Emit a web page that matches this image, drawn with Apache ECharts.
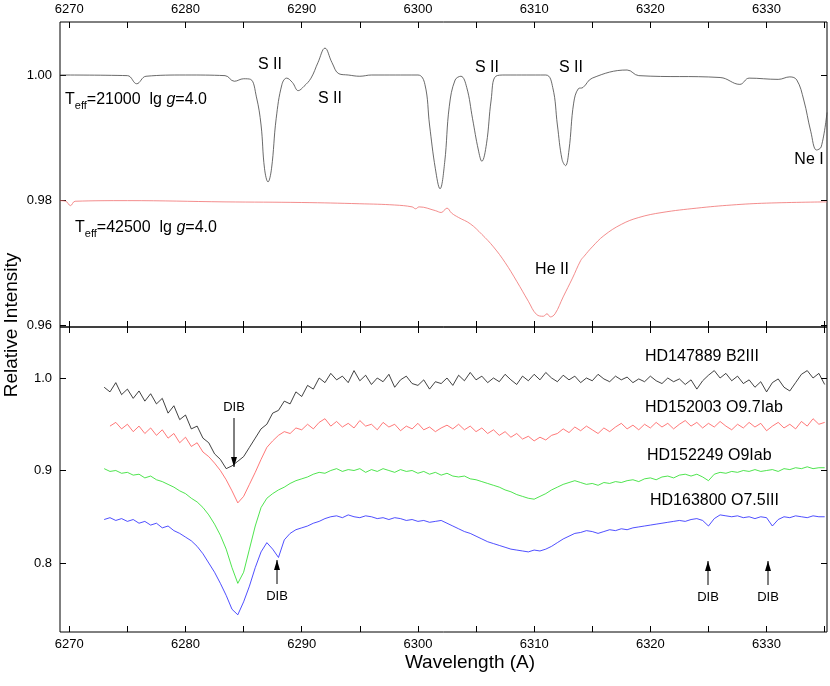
<!DOCTYPE html>
<html><head><meta charset="utf-8">
<script src="https://cdn.jsdelivr.net/npm/echarts@6/dist/echarts.min.js"></script>
<style>html,body{margin:0;padding:0;background:#fff}#c{width:830px;height:686px}</style>
</head><body><div id="c"></div>
<script>
const modelB = [[6269.2,1.0],[6275,0.9999],[6275.8,0.9986],[6276.6,0.9998],[6280,1.0],[6283.4,0.9999],[6284.2,0.9990],[6285,0.9994],[6285.6,0.9993],[6286.1,0.9965],[6286.5,0.992],[6286.8,0.985],[6287.1,0.9829],[6287.4,0.985],[6287.8,0.993],[6288.3,0.9985],[6288.7,0.9995],[6289.2,0.9988],[6289.7,0.9975],[6290.2,0.9982],[6290.8,0.9995],[6291.4,1.002],[6292,1.0043],[6292.6,1.002],[6293.2,1.0002],[6294,1.0],[6295,0.9998],[6296,1.0],[6300,1.0],[6300.6,0.9985],[6301,0.992],[6301.5,0.985],[6301.9,0.9818],[6302.3,0.986],[6302.7,0.995],[6303.2,0.9992],[6303.7,0.9998],[6304.2,0.998],[6304.7,0.993],[6305.2,0.988],[6305.5,0.9862],[6305.9,0.989],[6306.3,0.996],[6306.7,0.9998],[6307.5,1.0],[6311,1.0],[6311.6,0.998],[6312,0.992],[6312.4,0.9865],[6312.7,0.9855],[6313,0.988],[6313.4,0.9955],[6313.8,0.9978],[6314.2,0.998],[6315,0.9995],[6318,1.0008],[6319,0.9999],[6326,0.9996],[6327.7,0.9985],[6328.5,0.9995],[6331,0.9993],[6332,0.9997],[6332.6,0.9992],[6333.2,0.996],[6333.8,0.991],[6334.3,0.988],[6334.7,0.9885],[6335.2,0.994]];
const modelO = [[6269.2,0.9799],[6269.7,0.9798],[6270.1,0.9791],[6270.5,0.9798],[6275,0.9799],[6283.4,0.9797],[6290,0.9796],[6295,0.9794],[6298,0.9792],[6299.5,0.9789],[6299.8,0.9786],[6300.1,0.9789],[6301.5,0.9783],[6302,0.978],[6302.5,0.9787],[6302.9,0.9779],[6303.5,0.9772],[6304.5,0.9762],[6305.5,0.9745],[6306.5,0.9725],[6307.5,0.970],[6308.5,0.967],[6309.5,0.9638],[6310.2,0.9617],[6310.8,0.9614],[6311.1,0.9618],[6311.4,0.9613],[6311.8,0.9618],[6312.5,0.9645],[6313.3,0.9675],[6314,0.9703],[6314.3,0.971],[6315,0.9725],[6316,0.9743],[6317.5,0.9761],[6319,0.9772],[6321,0.978],[6324,0.9787],[6327,0.9792],[6330,0.9795],[6335.2,0.9797]];
const step = 0.5;
const startHD147889 = 6273;
const HD147889 = [0.990,0.985,0.995,0.982,0.988,0.978,0.986,0.975,0.983,0.972,0.978,0.962,0.970,0.955,0.960,0.945,0.948,0.935,0.930,0.918,0.912,0.902,0.905,0.910,0.915,0.925,0.935,0.945,0.950,0.962,0.965,0.975,0.972,0.985,0.980,0.992,0.988,1.000,0.995,1.005,0.998,1.002,0.995,1.008,0.997,1.003,0.993,1.000,0.996,1.004,0.990,0.998,1.002,0.994,0.992,0.998,0.988,0.996,0.994,1.000,0.992,1.003,0.997,1.006,0.998,1.002,0.995,1.000,0.996,1.004,0.998,0.993,1.002,0.997,1.004,0.998,1.006,1.000,0.996,1.003,0.998,1.002,0.995,1.000,0.997,1.004,0.999,0.996,1.002,0.998,1.001,0.995,0.999,0.996,1.002,0.997,0.994,1.000,0.996,0.999,0.993,0.998,0.988,0.997,1.003,1.008,1.000,1.005,0.997,1.002,0.994,0.998,0.990,0.996,0.985,0.995,0.999,0.990,0.986,0.995,1.004,1.008,1.000,1.005,0.993];
const startHD152003 = 6273.5;
const HD152003 = [0.948,0.952,0.945,0.950,0.942,0.948,0.940,0.946,0.938,0.944,0.935,0.940,0.930,0.936,0.926,0.930,0.920,0.915,0.908,0.900,0.890,0.878,0.865,0.872,0.885,0.898,0.912,0.925,0.932,0.938,0.942,0.940,0.946,0.944,0.950,0.945,0.952,0.956,0.948,0.953,0.947,0.951,0.946,0.954,0.948,0.950,0.944,0.952,0.947,0.950,0.943,0.948,0.945,0.951,0.944,0.947,0.942,0.946,0.949,0.945,0.950,0.944,0.948,0.942,0.946,0.940,0.944,0.938,0.942,0.936,0.940,0.934,0.937,0.932,0.936,0.933,0.938,0.940,0.945,0.941,0.947,0.943,0.948,0.944,0.940,0.946,0.942,0.947,0.951,0.945,0.949,0.944,0.950,0.946,0.952,0.947,0.951,0.945,0.950,0.954,0.948,0.952,0.946,0.951,0.947,0.953,0.948,0.944,0.950,0.946,0.952,0.947,0.951,0.943,0.948,0.952,0.946,0.950,0.945,0.953,0.948,0.956,0.950,0.952];
const startHD152249 = 6273;
const HD152249 = [0.902,0.899,0.900,0.897,0.898,0.895,0.896,0.892,0.894,0.890,0.888,0.885,0.882,0.878,0.875,0.870,0.866,0.860,0.852,0.842,0.830,0.815,0.795,0.778,0.790,0.815,0.840,0.860,0.870,0.875,0.879,0.882,0.886,0.889,0.891,0.893,0.896,0.898,0.897,0.900,0.902,0.899,0.901,0.900,0.902,0.898,0.901,0.899,0.902,0.900,0.898,0.901,0.899,0.900,0.897,0.899,0.896,0.898,0.895,0.897,0.894,0.893,0.894,0.891,0.890,0.888,0.886,0.884,0.882,0.879,0.877,0.874,0.872,0.870,0.869,0.872,0.875,0.879,0.882,0.885,0.887,0.889,0.887,0.885,0.886,0.884,0.887,0.886,0.888,0.887,0.889,0.890,0.888,0.891,0.892,0.890,0.893,0.894,0.892,0.895,0.896,0.894,0.896,0.893,0.889,0.896,0.898,0.897,0.899,0.898,0.900,0.899,0.901,0.899,0.900,0.901,0.899,0.902,0.901,0.903,0.902,0.904,0.902,0.903,0.903];
const startHD163800 = 6273;
const HD163800 = [0.847,0.849,0.846,0.848,0.845,0.847,0.843,0.845,0.841,0.843,0.838,0.840,0.835,0.832,0.828,0.824,0.818,0.810,0.800,0.790,0.778,0.765,0.750,0.744,0.758,0.775,0.795,0.812,0.822,0.815,0.806,0.825,0.832,0.836,0.838,0.840,0.843,0.845,0.848,0.850,0.851,0.849,0.852,0.850,0.849,0.851,0.850,0.848,0.849,0.847,0.849,0.848,0.846,0.847,0.845,0.846,0.844,0.845,0.846,0.843,0.840,0.837,0.834,0.832,0.829,0.826,0.823,0.821,0.819,0.817,0.815,0.814,0.813,0.812,0.814,0.813,0.815,0.818,0.822,0.826,0.829,0.832,0.833,0.835,0.834,0.832,0.834,0.836,0.835,0.837,0.836,0.838,0.839,0.840,0.841,0.842,0.843,0.844,0.845,0.846,0.845,0.847,0.848,0.846,0.840,0.848,0.852,0.851,0.850,0.851,0.849,0.850,0.848,0.850,0.849,0.840,0.847,0.850,0.849,0.851,0.850,0.849,0.851,0.850,0.850];
const xTicks = [6270,6275,6280,6285,6290,6295,6300,6305,6310,6315,6320,6325,6330,6335];
const xLabels = [6270,6280,6290,6300,6310,6320,6330];
const yTopLabels = [0.96,0.98,1.00];
const yBotLabels = [0.8,0.9,1.0];

const pairs = (start, arr) => arr.map((v,i)=>[start+i*step, v]);
const F = 'Liberation Sans, Arial, sans-serif';
const X0 = 6269.2, X1 = 6335.2;
function xa(grid, pos, labels) {
  return {type:'value', gridIndex:grid, position:pos, min:X0, max:X1,
    axisLine:{show:false}, splitLine:{show:false},
    axisTick:{show:true, inside:true, length:6, customValues:xTicks, lineStyle:{color:'#000'}},
    axisLabel:{show:labels, customValues:xLabels, color:'#000', fontFamily:F, fontSize:13, margin:6, formatter:v=>String(Math.round(v))}};
}
function ya(grid, pos, min, max, ticks, labels, fmt) {
  return {type:'value', gridIndex:grid, position:pos, min:min, max:max,
    axisLine:{show:false}, splitLine:{show:false},
    axisTick:{show:true, inside:true, length:6, customValues:ticks, lineStyle:{color:'#000'}},
    axisLabel:{show:labels, customValues:ticks, color:'#000', fontFamily:F, fontSize:13, margin:8, formatter:fmt}};
}
const ln = (xi, yi, data, color, w, sm) => ({type:'line', xAxisIndex:xi, yAxisIndex:yi, data:data, smooth:sm||false, showSymbol:false, symbol:'none', animation:false, lineStyle:{color:color, width:w}});
const txt = (x,y,t,s,anchor) => ({type:'text', style:{x:x, y:y, text:t, fontFamily:F, fontSize:s||16, fill:'#000', textAlign:anchor||'left', textVerticalAlign:'middle'}});
const arrow = (x,y1,y2) => [
  {type:'line', shape:{x1:x,y1:y1,x2:x,y2:y2}, style:{stroke:'#000', lineWidth:1}},
  {type:'polygon', shape:{points: y2>y1 ? [[x-3,y2-10],[x+3,y2-10],[x,y2]] : [[x-3,y2+10],[x+3,y2+10],[x,y2]]}, style:{fill:'#000'}}
];
const teff = (x,y,val) => ({type:'text', style:{x:x, y:y, textVerticalAlign:'middle', rich:{a:{fontFamily:F,fontSize:16,fill:'#000'},s:{fontFamily:F,fontSize:11,fill:'#000',padding:[12,0,0,0]},i:{fontFamily:F,fontSize:16,fontStyle:'italic',fill:'#000'}}, text:'{a|T}{s|eff}{a|='+val+'  lg }{i|g}{a|=4.0}'}});

const chart = echarts.init(document.getElementById('c'));
chart.setOption({
  backgroundColor:'#fff', animation:false,
  grid:[{left:60, right:3, top:22, height:305, show:true, borderColor:'#000', borderWidth:1},
        {left:60, right:3, top:327, height:305, show:true, borderColor:'#000', borderWidth:1}],
  xAxis:[xa(0,'top',true), xa(0,'bottom',false), xa(1,'top',false), xa(1,'bottom',true)],
  yAxis:[ya(0,'left',0.95968,1.00848,yTopLabels,true,v=>v.toFixed(2)), ya(0,'right',0.95968,1.00848,yTopLabels,false),
         ya(1,'left',0.72541,1.05514,yBotLabels,true,v=>v.toFixed(1)), ya(1,'right',0.72541,1.05514,yBotLabels,false)],
  series:[
    ln(0,0,modelB,'#444',0.8,0.4),
    ln(0,0,modelO,'#f07070',0.8,0.4),
    ln(3,2,pairs(startHD147889,HD147889),'#111',0.8),
    ln(3,2,pairs(startHD152003,HD152003),'#ff5555',0.8),
    ln(3,2,pairs(startHD152249,HD152249),'#22dd22',0.8),
    ln(3,2,pairs(startHD163800,HD163800),'#2222ff',0.8)
  ],
  graphic:[
    txt(270,65,'S II',16,'center'), txt(330,99,'S II',16,'center'),
    txt(487,68,'S II',16,'center'), txt(571,68,'S II',16,'center'),
    txt(809,160,'Ne I',16,'center'), txt(552,270,'He II',16,'center'),
    teff(65,100,'21000'), teff(75,228,'42500'),
    txt(645,357,'HD147889 B2III',16), txt(645,408,'HD152003 O9.7Iab',16),
    txt(647,456,'HD152249 O9Iab',16), txt(650,501,'HD163800 O7.5III',16),
    txt(234,407,'DIB',13,'center'), ...arrow(234,418,467),
    txt(277,596,'DIB',13,'center'), ...arrow(277,584,560),
    txt(708,597,'DIB',13,'center'), ...arrow(708,585,561),
    txt(768,597,'DIB',13,'center'), ...arrow(768,585,561),
    {type:'text', x:12, y:325, rotation:Math.PI/2, style:{x:0, y:0, text:'Relative Intensity', fontFamily:F, fontSize:19, fill:'#000', textAlign:'center', textVerticalAlign:'middle'}},
    txt(470,663,'Wavelength (A)',19,'center')
  ]
});
</script></body></html>
